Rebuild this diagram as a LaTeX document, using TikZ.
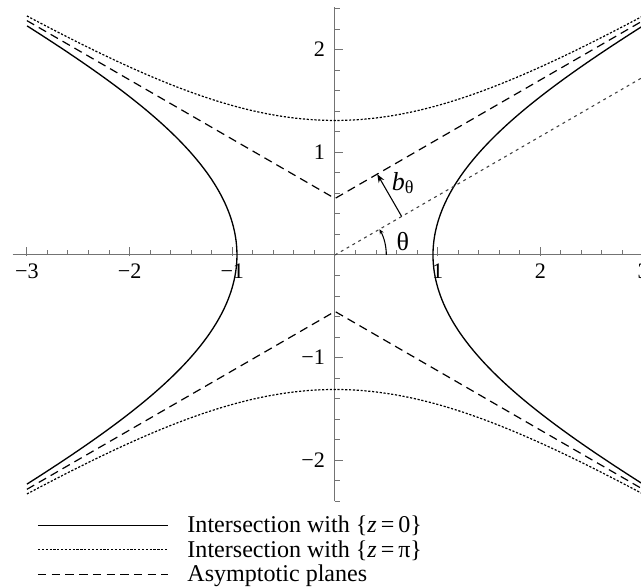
\documentclass[tikz,border=0pt]{standalone}
\usepackage{fontspec}
\setmainfont{Liberation Serif}
\usetikzlibrary{arrows.meta}

\begin{document}
\begin{tikzpicture}[x=1.5cm,y=1.5cm]
        \tikzset{axis/.style={black!55, line width=0.4pt},
                 ticklabel/.style={font=\fontsize{9.2}{10}\selectfont, inner sep=1pt},
                 zeroline/.style={black, line width=0.55pt},
                 piline/.style={black, line width=0.5pt, dash pattern=on 0.9pt off 0.7pt},
                 asymline/.style={black, line width=0.5pt, dash pattern=on 3.5pt off 2.2pt},
                 rayline/.style={black!75, line width=0.45pt, dash pattern=on 1.2pt off 1.6pt},
                 legendtext/.style={font=\fontsize{10}{11}\selectfont, anchor=base west, inner sep=0pt},
                 anglelabel/.style={font=\fontsize{10.8}{12}\selectfont, inner sep=0pt},
                 declare function={xzero(\t)=ln(((cosh(\t)+3.5733)/2.8517)+sqrt(((cosh(\t)+3.5733)/2.8517)^2-1))/1.1;
                                   ypi(\x)=0.55+1.0964*ln(2*cosh(0.5266*\x));}}
        \useasboundingbox (-3.262,-3.233) rectangle (2.980,2.483);

	%---AXES---
        \coordinate (xmin) at (-3.14,0);
        \coordinate (xmax) at (3.0,0);
        \coordinate (ymin) at (0,-2.4);
        \coordinate (ymax) at (0,2.41);
        \draw[axis] (xmin) -- (xmax);
        \draw[axis] (ymin) -- (ymax);
        \foreach \x in {-3,-2.8,...,3.05} \draw[axis] (\x,0) -- ++(0,0.045);
        \foreach \x in {-3,...,3} \draw[axis] (\x,-0.01) -- ++(0,0.085);
        \foreach \y in {-2.4,-2.2,...,2.45} \draw[axis] (0,\y) -- ++(0.045,0);
        \foreach \y in {-2,...,2} \draw[axis] (0,\y) -- ++(0.08,0);

        \foreach \x/\t [count=\n] in {-3/−3,-2/−2,-1/−1,1/1,2/2,3/3}
            \node[ticklabel, anchor=north] (xlab\n) at (\x,-0.06) {\t};
        \foreach \y/\t [count=\n] in {-2/−2,-1/−1,1/1,2/2}
            \node[ticklabel, anchor=east] (ylab\n) at (-0.07,\y) {\t};

	%---CURVES---
        \draw[zeroline] plot[domain=-4.2524:4.2524, samples=120, smooth] ({xzero(\x)},{\x/1.9053});
        \draw[zeroline] plot[domain=-4.2524:4.2524, samples=120, smooth] ({-xzero(\x)},{\x/1.9053});

        \draw[piline] plot[domain=-3:3, samples=100, smooth] (\x,{ypi(\x)});
        \draw[piline] plot[domain=-3:3, samples=100, smooth] (\x,{-ypi(\x)});

        \coordinate (atl) at (-3,2.282);
        \coordinate (at)  at (0,0.55);
        \coordinate (atr) at (3,2.282);
        \coordinate (abl) at (-3,-2.282);
        \coordinate (ab)  at (0,-0.55);
        \coordinate (abr) at (3,-2.282);
        \draw[asymline] (atl) -- (at) -- (atr);
        \draw[asymline] (abl) -- (ab) -- (abr);

	%---ANGLE AND WIDTH---
        \coordinate (O) at (0,0);
        \coordinate (rayend) at (30:3.4641);
        \draw[rayline] (O) -- (rayend);

        \coordinate (bfoot) at (30:0.75);
        \coordinate (bhead) at ([shift={(120:0.476)}]30:0.75);
        \draw[-{Stealth[length=3.5pt,width=2.6pt]}, line width=0.45pt] (bfoot) -- (bhead);
        \node[anglelabel] (blab) at (0.665,0.70) {\textit{b}\textsubscript{θ}};

        \coordinate (arcstart) at (0.5,0);
        \draw[-{Stealth[length=2pt,width=1.8pt]}, line width=0.45pt] (arcstart) arc[start angle=0, end angle=30, radius=0.5];
        \node[anglelabel] (thlab) at (0.66,0.13) {θ};

	%---LEGEND---
        \coordinate (l1a) at (-2.892,-2.632);
        \coordinate (l1b) at (-1.626,-2.632);
        \coordinate (l2a) at (-2.892,-2.870);
        \coordinate (l2b) at (-1.626,-2.870);
        \coordinate (l3a) at (-2.892,-3.109);
        \coordinate (l3b) at (-1.626,-3.109);
        \draw[zeroline] (l1a) -- (l1b);
        \draw[piline]   (l2a) -- (l2b);
        \draw[asymline] (l3a) -- (l3b);
        \node[legendtext] (leg1) at (-1.441,-2.707) {Intersection with \{\textit{z}\,=\,0\}};
        \node[legendtext] (leg2) at (-1.441,-2.945) {Intersection with \{\textit{z}\,=\,π\}};
        \node[legendtext] (leg3) at (-1.441,-3.184) {Asymptotic planes};
\end{tikzpicture}
\end{document}
